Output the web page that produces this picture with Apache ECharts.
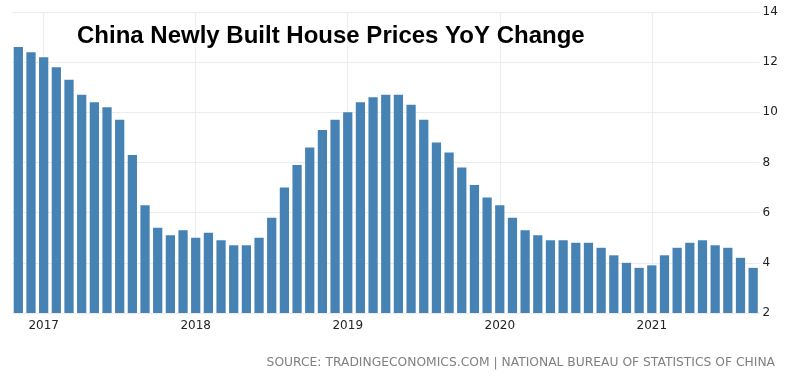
<!DOCTYPE html>
<html>
<head>
<meta charset="utf-8">
<script src="https://cdn.jsdelivr.net/npm/echarts@6/dist/echarts.min.js"></script>
<style>
html,body{margin:0;padding:0;background:#fff;}
#chart{width:800px;height:378px;}
</style>
</head>
<body>
<div id="chart"></div>
<script>
const titleText = 'China Newly Built House Prices YoY Change';
const sourceText = 'SOURCE: TRADINGECONOMICS.COM | NATIONAL BUREAU OF STATISTICS OF CHINA';

const months = [
  '2016-11','2016-12',
  '2017-01','2017-02','2017-03','2017-04','2017-05','2017-06','2017-07','2017-08','2017-09','2017-10','2017-11','2017-12',
  '2018-01','2018-02','2018-03','2018-04','2018-05','2018-06','2018-07','2018-08','2018-09','2018-10','2018-11','2018-12',
  '2019-01','2019-02','2019-03','2019-04','2019-05','2019-06','2019-07','2019-08','2019-09','2019-10','2019-11','2019-12',
  '2020-01','2020-02','2020-03','2020-04','2020-05','2020-06','2020-07','2020-08','2020-09','2020-10','2020-11','2020-12',
  '2021-01','2021-02','2021-03','2021-04','2021-05','2021-06','2021-07','2021-08','2021-09'
];

const yoyChange = [
  12.6,12.4,
  12.2,11.8,11.3,10.7,10.4,10.2,9.7,8.3,6.3,5.4,5.1,5.3,
  5.0,5.2,4.9,4.7,4.7,5.0,5.8,7.0,7.9,8.6,9.3,9.7,
  10.0,10.4,10.6,10.7,10.7,10.3,9.7,8.8,8.4,7.8,7.1,6.6,
  6.3,5.8,5.3,5.1,4.9,4.9,4.8,4.8,4.6,4.3,4.0,3.8,
  3.9,4.3,4.6,4.8,4.9,4.7,4.6,4.2,3.8
];

const yearStarts = ['2017-01','2018-01','2019-01','2020-01','2021-01'];
const yMin = 2, yMax = 14, yStep = 2;

const chart = echarts.init(document.getElementById('chart'), null, {renderer:'canvas'});
chart.setOption({
  animation: false,
  backgroundColor: '#ffffff',
  title: [
    {
      text: titleText,
      left: 77, top: 24, padding: 0,
      textStyle: {fontFamily: 'Liberation Sans', fontWeight: 'bold', fontSize: 24, color: '#000'}
    },
    {
      text: sourceText,
      right: 25, top: 357, padding: 0,
      textStyle: {fontFamily: 'DejaVu Sans', fontWeight: 'normal', fontSize: 12.3, color: '#808080'}
    }
  ],
  grid: {left: 12, right: 40.5, top: 12, bottom: 65, containLabel: false},
  xAxis: {
    type: 'category',
    data: months,
    boundaryGap: true,
    axisLine: {show: false},
    axisTick: {show: false},
    splitLine: {show: false},
    axisLabel: {
      interval: (i, v) => yearStarts.indexOf(v) >= 0,
      formatter: v => v.slice(0, 4),
      color: '#222', fontFamily: 'DejaVu Sans', fontSize: 12, margin: 7
    }
  },
  yAxis: {
    type: 'value',
    position: 'right',
    min: yMin, max: yMax, interval: yStep,
    axisLine: {show: false},
    axisTick: {show: false},
    splitLine: {lineStyle: {color: '#ececec', width: 1}},
    axisLabel: {color: '#222', fontFamily: 'DejaVu Sans', fontSize: 12, margin: 3}
  },
  series: [
    {
      type: 'bar',
      data: yoyChange,
      barCategoryGap: '27%',
      itemStyle: {color: '#4682b4'},
      z: 2,
      markLine: {
        silent: true,
        symbol: 'none',
        z: 0,
        label: {show: false},
        lineStyle: {color: '#ececec', type: 'solid', width: 1},
        data: yearStarts.map(m => ({xAxis: m}))
      }
    }
  ]
});
</script>
</body>
</html>
